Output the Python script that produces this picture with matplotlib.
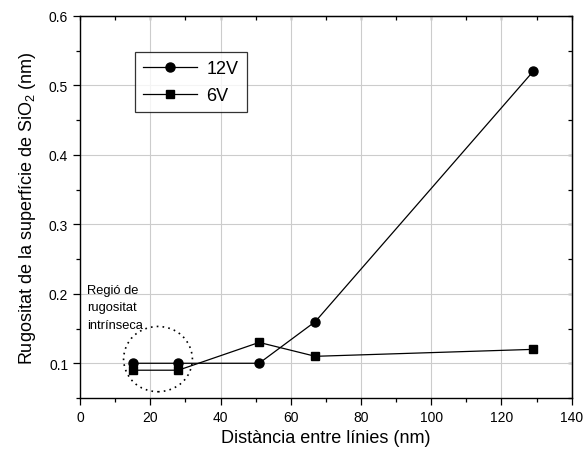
import matplotlib
matplotlib.use("Agg")
import matplotlib.pyplot as plt
from matplotlib.patches import Ellipse
from matplotlib.ticker import MultipleLocator

plt.rcParams["font.family"] = ["Liberation Sans", "DejaVu Sans"]
plt.rcParams["mathtext.fontset"] = "custom"
plt.rcParams["mathtext.rm"] = "Liberation Sans"
plt.rcParams["mathtext.it"] = "Liberation Sans:italic"

# data
dist = [15, 28, 51, 67, 129]
rough_12v = [0.10, 0.10, 0.10, 0.16, 0.52]
rough_6v = [0.09, 0.09, 0.13, 0.11, 0.12]

fig = plt.figure(figsize=(5.84, 4.56), dpi=100)
ax = fig.add_axes([0.137, 0.125, 0.842, 0.838])

ax.plot(dist, rough_12v, color="black", lw=0.9, marker="o", ms=6.5, label="12V")
ax.plot(dist, rough_6v, color="black", lw=0.9, marker="s", ms=6, label="6V")

# dotted circle marking the intrinsic roughness region
ax.add_patch(Ellipse((22.2, 0.106), 19.6, 0.094, fill=False, ls=(0, (1, 2.5)),
                     lw=1.2, color="black"))
ax.text(2.0, 0.214, "Regió de\nrugositat\nintrínseca", fontsize=9.3,
        ha="left", va="top", linespacing=1.6)

ax.set_xlim(0, 140)
ax.set_ylim(0.05, 0.6)
ax.xaxis.set_major_locator(MultipleLocator(20))
ax.xaxis.set_minor_locator(MultipleLocator(10))
ax.yaxis.set_major_locator(MultipleLocator(0.1))
ax.yaxis.set_minor_locator(MultipleLocator(0.05))
ax.tick_params(which="major", direction="out", length=5, width=0.9, labelsize=10)
ax.tick_params(which="minor", direction="out", length=3, width=0.9)
for s in ax.spines.values():
    s.set_linewidth(1.0)
ax.grid(True, which="major", color="#cccccc", lw=0.8)
ax.set_axisbelow(True)

# top/right ticks point inward, no labels
sec_x = ax.secondary_xaxis("top")
sec_x.set_xticks(range(0, 141, 10))
sec_x.tick_params(direction="in", length=3, width=0.9, labeltop=False)
sec_y = ax.secondary_yaxis("right")
sec_y.yaxis.set_major_locator(MultipleLocator(0.1))
sec_y.yaxis.set_minor_locator(MultipleLocator(0.05))
sec_y.tick_params(which="both", direction="in", length=3, width=0.9, labelright=False)

ax.set_xlabel("Distància entre línies (nm)", fontsize=13, labelpad=4)
ax.set_ylabel("Rugositat de la superfície de SiO$_2$ (nm)", fontsize=13, labelpad=8)

leg = ax.legend(loc="upper left", bbox_to_anchor=(0.112, 0.906), fontsize=13,
                frameon=True, fancybox=False, edgecolor="black",
                borderaxespad=0, handlelength=3.0, handletextpad=0.5,
                borderpad=0.45, labelspacing=0.55)
leg.get_frame().set_linewidth(0.9)

fig.savefig("out.png", dpi=100)
